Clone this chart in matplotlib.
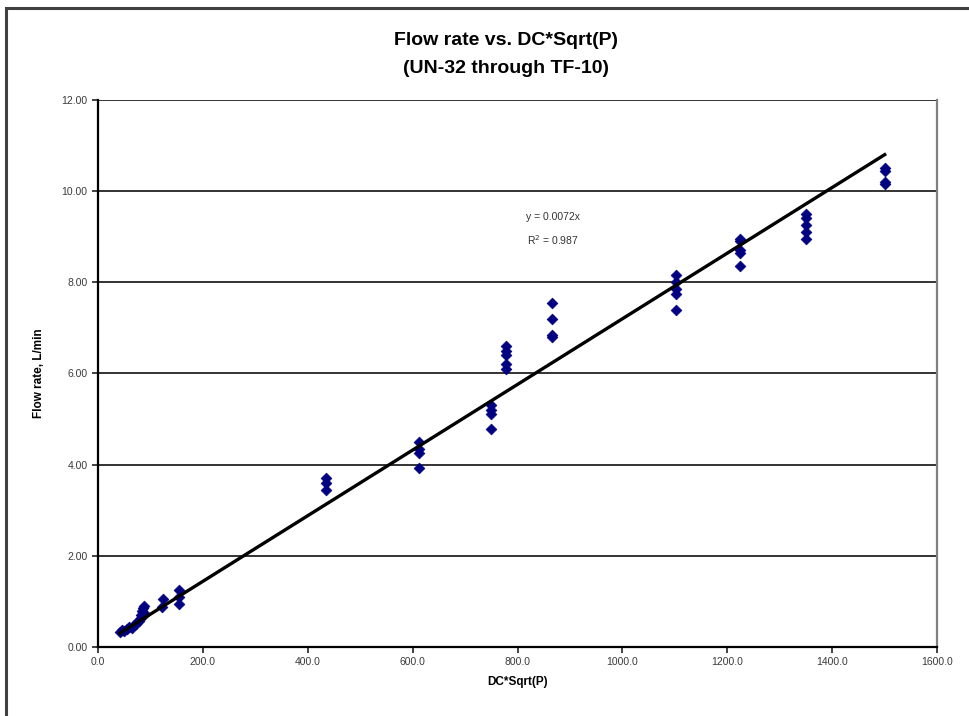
import numpy as np
import matplotlib.pyplot as plt
from matplotlib.patches import Rectangle

# DC*Sqrt(P) vs measured flow rate, grouped by nozzle
dc_sqrt_p = [42, 45, 50, 55, 60, 65, 68, 72, 75, 78, 80, 82, 84, 86, 88, 89,
             123, 124,
             154, 154, 154,
             435, 435, 435,
             612, 612, 612, 612,
             750, 750, 750, 750,
             778, 778, 778, 778, 778,
             865, 865, 865, 865,
             1102, 1102, 1102, 1102, 1102,
             1225, 1225, 1225, 1225, 1225,
             1350, 1350, 1350, 1350, 1350,
             1500, 1500, 1500, 1500]
flow_rate = [0.32, 0.38, 0.36, 0.40, 0.44, 0.42, 0.48, 0.50, 0.55, 0.58, 0.62, 0.70, 0.78, 0.85, 0.90, 0.72,
             0.88, 1.05,
             0.95, 1.10, 1.25,
             3.45, 3.60, 3.70,
             3.92, 4.25, 4.35, 4.50,
             4.78, 5.10, 5.20, 5.30,
             6.10, 6.20, 6.40, 6.50, 6.60,
             6.80, 6.85, 7.20, 7.55,
             7.40, 7.75, 7.85, 8.00, 8.15,
             8.35, 8.65, 8.70, 8.90, 8.95,
             8.95, 9.10, 9.25, 9.40, 9.50,
             10.15, 10.20, 10.45, 10.50]

slope = 0.0072
r_squared = 0.987

x_ticks = [0, 200, 400, 600, 800, 1000, 1200, 1400, 1600]
y_ticks = [0, 2, 4, 6, 8, 10, 12]

plt.rcParams['font.family'] = ['Liberation Sans', 'DejaVu Sans']
narrow = ['Liberation Sans Narrow', 'Liberation Sans', 'DejaVu Sans']

fig = plt.figure(figsize=(9.69, 7.16), dpi=100)
ax = fig.add_axes([0.1011, 0.0964, 0.866, 0.764])

# outer chart frame (runs off the right and bottom edges)
fig.patches.append(Rectangle((0.006, -0.05), 1.05, 1.039, transform=fig.transFigure,
                             fill=False, edgecolor='#404040', linewidth=2.2))

for yv in y_ticks[1:]:
    ax.axhline(yv, color='#333333', linewidth=1.4, zorder=1)

ax.scatter(dc_sqrt_p, flow_rate, marker='D', s=30, color='#000080',
           edgecolors='#000080', linewidths=0.5, zorder=3)

xs = np.array([min(dc_sqrt_p), max(dc_sqrt_p)])
ax.plot(xs, slope * xs, color='black', linewidth=2.4, zorder=4)

ax.set_xlim(0, 1600)
ax.set_ylim(0, 12)
ax.set_xticks(x_ticks)
ax.set_yticks(y_ticks)
ax.set_xticklabels([f'{v:.1f}' for v in x_ticks])
ax.set_yticklabels([f'{v:.2f}' for v in y_ticks])
ax.tick_params(direction='out', length=4, width=1.2, labelsize=7.5,
               labelcolor='#3a3a3a', colors='#222222')

ax.spines['left'].set_linewidth(1.6)
ax.spines['bottom'].set_linewidth(1.6)
ax.spines['top'].set_visible(False)
ax.spines['right'].set_color('#808080')
ax.spines['right'].set_linewidth(1.6)

ax.set_xlabel('DC*Sqrt(P)', fontsize=8.5, fontweight='bold', labelpad=6, family=narrow)
ax.set_ylabel('Flow rate, L/min', fontsize=8.5, fontweight='bold', labelpad=12, family=narrow)

fig.text(0.522, 0.943, 'Flow rate vs. DC*Sqrt(P)', ha='center', va='center',
         fontsize=14, fontweight='bold', family=narrow)
fig.text(0.522, 0.904, '(UN-32 through TF-10)', ha='center', va='center',
         fontsize=14, fontweight='bold', family=narrow)

ax.text(868, 9.43, f'y = {slope}x', ha='center', va='center', fontsize=7.5, color='#333333')
ax.text(868, 8.93, f'R$^2$ = {r_squared}', ha='center', va='center', fontsize=7.5, color='#333333')

fig.savefig('out.png', dpi=100)
